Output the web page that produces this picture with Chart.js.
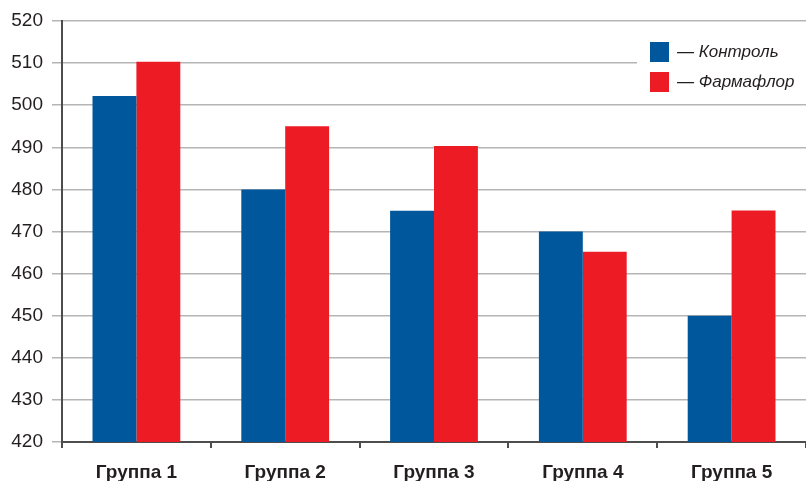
<!DOCTYPE html>
<html>
<head>
<meta charset="utf-8">
<script src="https://cdn.jsdelivr.net/npm/chart.js@4/dist/chart.umd.min.js"></script>
<style>
  html, body { margin: 0; padding: 0; background: #fff; }
  #wrap { width: 806px; height: 481px; position: relative; }
</style>
</head>
<body>
<div id="wrap"><canvas id="c"></canvas></div>
<script>
// Body weight by group
const groups = ['Группа 1', 'Группа 2', 'Группа 3', 'Группа 4', 'Группа 5'];
const control = [502.2, 480, 474.9, 470, 450];
const farmaflor = [510.3, 495, 490.3, 465.2, 475];
const seriesNames = ['Контроль', 'Фармафлор'];
const yMin = 420, yMax = 520, yStep = 10;

const BLUE = '#00579b';
const RED = '#ed1c24';
const TEXT = '#231f20';

// Legend drawn inside the plot, top-right, on a white panel
const boxLegend = {
  id: 'boxLegend',
  afterDatasetsDraw(chart) {
    const ctx = chart.ctx;
    const area = chart.chartArea;
    ctx.save();
    ctx.fillStyle = '#fff';
    ctx.fillRect(637, 30, area.right - 637, 70);
    chart.data.datasets.forEach((ds, i) => {
      const y = 42 + i * 30;
      ctx.fillStyle = ds.backgroundColor;
      ctx.fillRect(650, y, 19, 20);
      ctx.fillStyle = TEXT;
      ctx.font = 'italic 17px "Liberation Sans", Arial, sans-serif';
      ctx.textBaseline = 'middle';
      ctx.textAlign = 'left';
      ctx.fillText('— ' + ds.label, 677, y + 10);
    });
    ctx.restore();
  }
};

new Chart(document.getElementById('c'), {
  type: 'bar',
  data: {
    labels: groups,
    datasets: [
      { label: seriesNames[0], data: control, backgroundColor: BLUE },
      { label: seriesNames[1], data: farmaflor, backgroundColor: RED }
    ]
  },
  options: {
    responsive: true,
    maintainAspectRatio: false,
    animation: false,
    layout: { padding: { top: 21, right: 0, left: 0, bottom: 0 } },
    plugins: { legend: { display: false }, tooltip: { enabled: false } },
    datasets: { bar: { categoryPercentage: 0.59, barPercentage: 1.0 } },
    scales: {
      x: {
        offset: true,
        grid: {
          offset: true,
          drawOnChartArea: false,
          drawTicks: true,
          tickLength: 6,
          color: '#4d4d4d',
          lineWidth: 2
        },
        border: { display: true, color: '#4d4d4d', width: 2 },
        ticks: {
          color: TEXT,
          padding: 13,
          font: { family: '"Liberation Sans", Arial, sans-serif', size: 19, weight: 'bold' }
        },
        afterFit(scale) { scale.height = 39; }
      },
      y: {
        min: yMin,
        max: yMax,
        ticks: {
          stepSize: yStep,
          color: TEXT,
          padding: 9,
          font: { family: '"Liberation Sans", Arial, sans-serif', size: 19 }
        },
        grid: {
          color: '#b5b5b5',
          lineWidth: 1.5,
          tickLength: 10,
          drawTicks: true
        },
        border: { display: true, color: '#4d4d4d', width: 2 },
        afterFit(scale) { scale.width = 62; }
      }
    }
  },
  plugins: [boxLegend]
});
</script>
</body>
</html>
